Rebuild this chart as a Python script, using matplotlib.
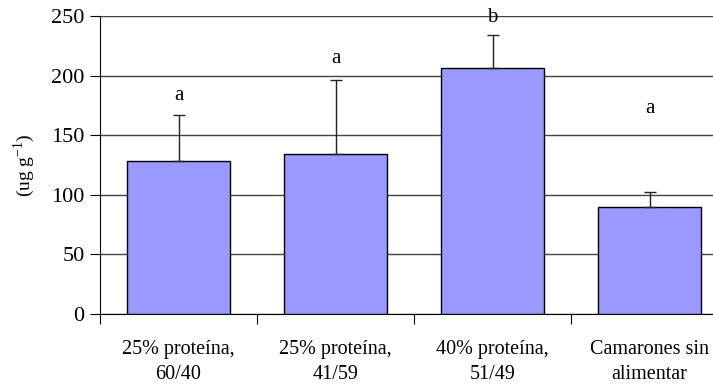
import numpy as np
import matplotlib.pyplot as plt

plt.rcParams['font.family'] = 'serif'
plt.rcParams['font.serif'] = ['Liberation Serif', 'DejaVu Serif']
plt.rcParams['mathtext.fontset'] = 'custom'
plt.rcParams['mathtext.rm'] = 'Liberation Serif'

# datos
tratamientos = ['25% proteína,\n60/40', '25% proteína,\n41/59',
                '40% proteína,\n51/49', 'Camarones sin\nalimentar']
medias = [128, 134, 206, 90]
error_sup = [39, 62, 28, 12]
letras = ['a', 'a', 'b', 'a']
pos_letras = [183, 214, 249, 172]

fig = plt.figure(figsize=[7.13, 3.87], dpi=100)
# el grafico original esta recortado a la derecha
ax = fig.add_axes([100 / 713, 1 - 314 / 387, 628 / 713, 298 / 387])

x = np.arange(len(tratamientos))
ax.bar(x, medias, width=0.66, color='#9999ff', edgecolor='black',
       linewidth=1, zorder=3)
ax.errorbar(x, medias, yerr=[np.zeros(len(medias)), error_sup], fmt='none',
            ecolor='#222222', elinewidth=1, capsize=4, capthick=1, zorder=4)

for xi, letra, yi in zip(x, letras, pos_letras):
    ax.text(xi, yi, letra, ha='center', va='center', fontsize=15, zorder=5)

ax.set_ylim(0, 250)
ax.set_xlim(-0.5, len(tratamientos) - 0.5)
ax.set_yticks(np.arange(0, 251, 50))
ax.yaxis.grid(True, color='#444444', linewidth=1, zorder=0)
ax.set_axisbelow(True)

ax.set_xticks(np.arange(-0.5, len(tratamientos), 1.0))
ax.set_xticklabels([])
ax.set_xticks(x, minor=True)
ax.set_xticklabels(tratamientos, minor=True, fontsize=14.5, linespacing=1.4)
ax.tick_params(axis='x', which='minor', length=0, pad=19)
ax.tick_params(axis='x', which='major', length=7, direction='out')
ax.tick_params(axis='y', length=7, direction='out', labelsize=16, pad=4)

for lado in ['top', 'right']:
    ax.spines[lado].set_visible(False)

ax.set_ylabel('(ug g$^{\\mathrm{-1}}$)', fontsize=14, labelpad=10)

fig.savefig('out.png', dpi=100)
